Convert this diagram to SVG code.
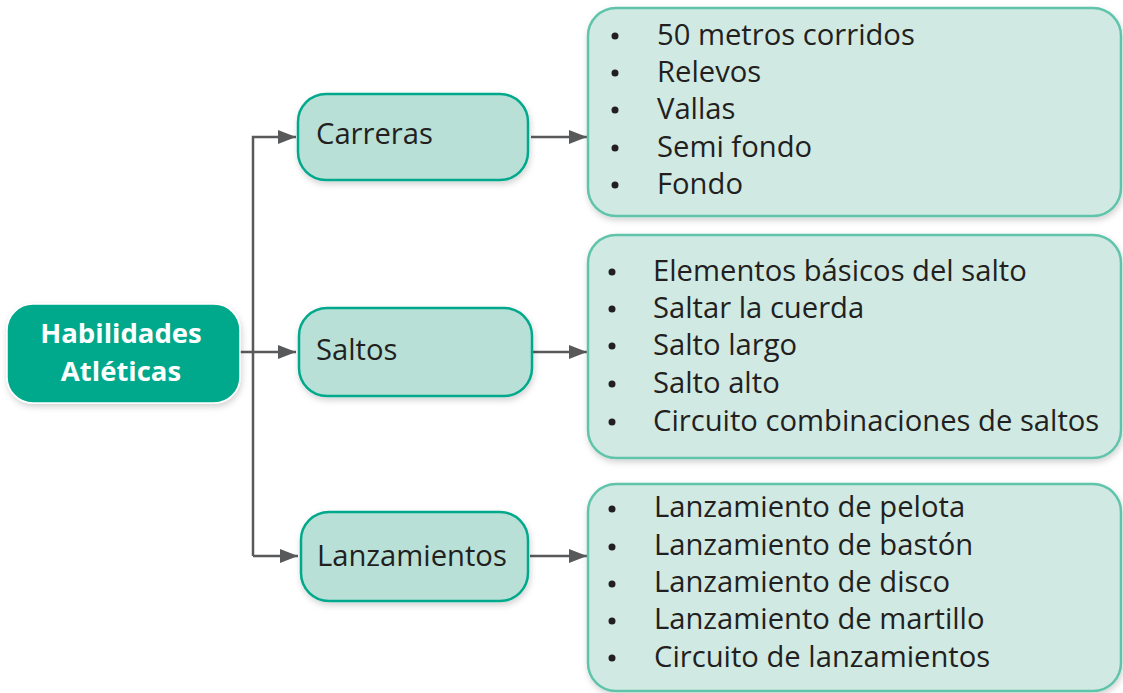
<svg xmlns="http://www.w3.org/2000/svg" width="1123" height="693" viewBox="0 0 1123 693">
<style>
.t{font-family:"Open Sans","Noto Sans",sans-serif;font-size:29.2px;fill:#231f20}
.m{font-family:"Open Sans","Noto Sans",sans-serif;font-size:27.5px;font-weight:bold;fill:#ffffff;text-anchor:middle}
.node{fill:#b8e0d6;stroke:#00a98c;stroke-width:2.5}
.box{fill:#d0e9e3;stroke:#5ec4aa;stroke-width:2.5}
.ln{fill:none;stroke:#58595b;stroke-width:2.5}
.dot{fill:#231f20}
</style>
<defs>
<filter id="sh" x="-10%" y="-10%" width="120%" height="130%">
<feDropShadow dx="1" dy="3" stdDeviation="3" flood-color="#000" flood-opacity="0.18"/>
</filter>
<marker id="ar" viewBox="0 0 18 14" refX="18" refY="7" markerWidth="18" markerHeight="14" markerUnits="userSpaceOnUse" orient="auto">
<path d="M0,0 L18,7 L0,14 Z" fill="#58595b"/>
</marker>
</defs>
<rect width="1123" height="693" fill="#ffffff"/>
<g id="connectors">
<path class="ln" d="M240,352 H296" marker-end="url(#ar)"/>
<path class="ln" d="M253,556 V137 H296" marker-end="url(#ar)"/>
<path class="ln" d="M253,556 H298" marker-end="url(#ar)"/>
<path class="ln" d="M531,137 H587" marker-end="url(#ar)"/>
<path class="ln" d="M533,352 H587" marker-end="url(#ar)"/>
<path class="ln" d="M530,556 H587" marker-end="url(#ar)"/>
</g>
<g id="habilidades">
<rect x="7" y="304" width="233" height="99" rx="26" fill="#00a98c" stroke="#ffffff" stroke-width="1.5" filter="url(#sh)"/>
<text class="m" x="121" y="343">Habilidades</text>
<text class="m" x="121" y="381">Atléticas</text>
</g>
<g id="carreras">
<rect class="node" x="298" y="94" width="230" height="86" rx="28" filter="url(#sh)"/>
<text class="t" x="316" y="144">Carreras</text>
</g>
<g id="saltos">
<rect class="node" x="299" y="308" width="233" height="88" rx="28" filter="url(#sh)"/>
<text class="t" x="316" y="360">Saltos</text>
</g>
<g id="lanzamientos">
<rect class="node" x="301" y="512" width="227" height="89" rx="28" filter="url(#sh)"/>
<text class="t" x="317" y="566">Lanzamientos</text>
</g>
<g id="lista-carreras">
<rect class="box" x="588" y="8" width="533" height="208" rx="28" filter="url(#sh)"/>
<circle class="dot" cx="615" cy="36" r="3.5"/>
<circle class="dot" cx="615" cy="73" r="3.5"/>
<circle class="dot" cx="615" cy="110" r="3.5"/>
<circle class="dot" cx="615" cy="148" r="3.5"/>
<circle class="dot" cx="615" cy="185" r="3.5"/>
<text class="t" x="657" y="45">50 metros corridos</text>
<text class="t" x="657" y="82">Relevos</text>
<text class="t" x="657" y="119">Vallas</text>
<text class="t" x="657" y="157">Semi fondo</text>
<text class="t" x="657" y="194">Fondo</text>
</g>
<g id="lista-saltos">
<rect class="box" x="588" y="235" width="533" height="223" rx="28" filter="url(#sh)"/>
<circle class="dot" cx="612" cy="272" r="3.5"/>
<circle class="dot" cx="612" cy="309" r="3.5"/>
<circle class="dot" cx="612" cy="346" r="3.5"/>
<circle class="dot" cx="612" cy="384" r="3.5"/>
<circle class="dot" cx="612" cy="422" r="3.5"/>
<text class="t" x="653" y="281">Elementos básicos del salto</text>
<text class="t" x="653" y="318">Saltar la cuerda</text>
<text class="t" x="653" y="355">Salto largo</text>
<text class="t" x="653" y="393">Salto alto</text>
<text class="t" x="653" y="431">Circuito combinaciones de saltos</text>
</g>
<g id="lista-lanzamientos">
<rect class="box" x="588" y="484" width="533" height="207" rx="28" filter="url(#sh)"/>
<circle class="dot" cx="612" cy="509" r="3.5"/>
<circle class="dot" cx="612" cy="547" r="3.5"/>
<circle class="dot" cx="612" cy="584" r="3.5"/>
<circle class="dot" cx="612" cy="621" r="3.5"/>
<circle class="dot" cx="612" cy="658" r="3.5"/>
<text class="t" x="654" y="517">Lanzamiento de pelota</text>
<text class="t" x="654" y="555">Lanzamiento de bastón</text>
<text class="t" x="654" y="592">Lanzamiento de disco</text>
<text class="t" x="654" y="629">Lanzamiento de martillo</text>
<text class="t" x="654" y="667">Circuito de lanzamientos</text>
</g>
</svg>
